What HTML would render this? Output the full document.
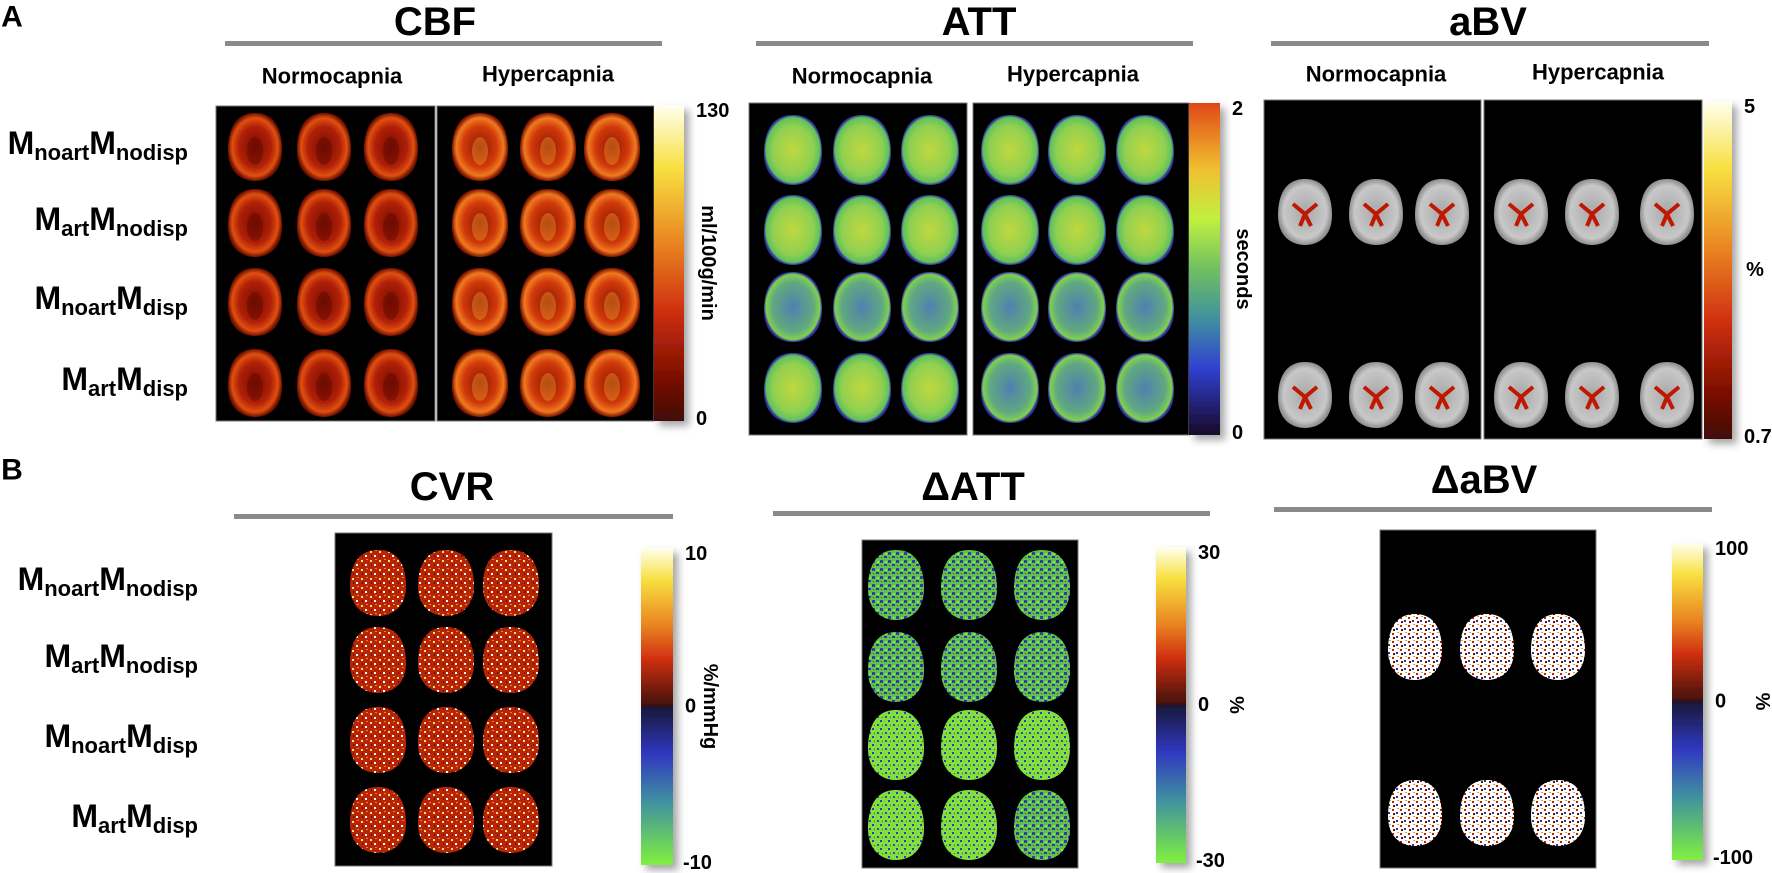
<!DOCTYPE html>
<html><head><meta charset="utf-8"><style>
html,body{margin:0;padding:0;background:#fff;}
svg{display:block;font-family:"Liberation Sans",Arial,sans-serif;font-weight:bold;}
</style></head><body>
<svg id="fig" width="1772" height="873" viewBox="0 0 1772 873" xmlns="http://www.w3.org/2000/svg">
<defs>
 <radialGradient id="gCBF" cx="50%" cy="50%" r="50%">
  <stop offset="0" stop-color="#7a0c00"/><stop offset="0.6" stop-color="#b02008"/><stop offset="0.85" stop-color="#e05010"/><stop offset="1" stop-color="#701000"/>
 </radialGradient>
 <radialGradient id="gCBFh" cx="50%" cy="50%" r="50%">
  <stop offset="0" stop-color="#901500"/><stop offset="0.6" stop-color="#d03a0a"/><stop offset="0.85" stop-color="#f07a20"/><stop offset="1" stop-color="#801400"/>
 </radialGradient>
 <radialGradient id="gATT" cx="50%" cy="50%" r="50%">
  <stop offset="0" stop-color="#c0d840"/><stop offset="0.7" stop-color="#90d050"/><stop offset="0.93" stop-color="#60c060"/><stop offset="1" stop-color="#3030a0"/>
 </radialGradient>
 <radialGradient id="gATTb" cx="50%" cy="50%" r="50%">
  <stop offset="0" stop-color="#5080b0"/><stop offset="0.7" stop-color="#60a880"/><stop offset="0.93" stop-color="#80d050"/><stop offset="1" stop-color="#3030a0"/>
 </radialGradient>
 <radialGradient id="gGray" cx="50%" cy="50%" r="50%">
  <stop offset="0" stop-color="#a8a8a8"/><stop offset="0.8" stop-color="#c8c8c8"/><stop offset="1" stop-color="#909090"/>
 </radialGradient>
 <pattern id="pCVR" width="9" height="9" patternUnits="userSpaceOnUse">
  <rect width="9" height="9" fill="#b82408"/><rect x="1" y="2" width="2" height="2" fill="#ffe860"/><rect x="5" y="6" width="2" height="2" fill="#ffffff"/><rect x="6" y="1" width="2" height="1" fill="#f08020"/><rect x="2" y="6" width="1" height="2" fill="#700800"/>
 </pattern>
 <pattern id="pDATT" width="8" height="8" patternUnits="userSpaceOnUse">
  <rect width="8" height="8" fill="#60c050"/><rect x="0" y="0" width="3" height="3" fill="#3040a0"/><rect x="4" y="4" width="3" height="2" fill="#2838a0"/><rect x="5" y="1" width="2" height="2" fill="#80f040"/><rect x="1" y="5" width="1" height="1" fill="#c02000"/>
 </pattern>
 <pattern id="pDATTg" width="8" height="8" patternUnits="userSpaceOnUse">
  <rect width="8" height="8" fill="#80e040"/><rect x="0" y="0" width="2" height="2" fill="#3040a0"/><rect x="5" y="4" width="2" height="2" fill="#3848b0"/><rect x="2" y="5" width="1" height="1" fill="#c02000"/>
 </pattern>
 <pattern id="pDABV" width="8" height="8" patternUnits="userSpaceOnUse">
  <rect width="8" height="8" fill="#ffffff"/><rect x="0" y="1" width="2" height="2" fill="#c02000"/><rect x="4" y="4" width="2" height="2" fill="#2838a0"/><rect x="5" y="0" width="2" height="1" fill="#f0a020"/><rect x="1" y="5" width="2" height="2" fill="#701000"/>
 </pattern>
 <linearGradient id="cbHot" x1="0" y1="0" x2="0" y2="1">
  <stop offset="0" stop-color="#fffff0"/><stop offset="0.2" stop-color="#f8e040"/><stop offset="0.45" stop-color="#e88020"/><stop offset="0.65" stop-color="#d03010"/><stop offset="0.85" stop-color="#801000"/><stop offset="1" stop-color="#401008"/>
 </linearGradient>
 <linearGradient id="cbJet" x1="0" y1="0" x2="0" y2="1">
  <stop offset="0" stop-color="#e04818"/><stop offset="0.2" stop-color="#f0c030"/><stop offset="0.35" stop-color="#c0f040"/><stop offset="0.5" stop-color="#70c060"/><stop offset="0.65" stop-color="#4090a0"/><stop offset="0.8" stop-color="#3040d0"/><stop offset="1" stop-color="#180828"/>
 </linearGradient>
 <linearGradient id="cbDiv" x1="0" y1="0" x2="0" y2="1">
  <stop offset="0" stop-color="#fffff0"/><stop offset="0.1" stop-color="#f8e040"/><stop offset="0.25" stop-color="#e88020"/><stop offset="0.35" stop-color="#d03010"/><stop offset="0.5" stop-color="#401008"/><stop offset="0.5" stop-color="#181838"/><stop offset="0.65" stop-color="#3038c0"/><stop offset="0.8" stop-color="#4090a0"/><stop offset="1" stop-color="#80f040"/>
 </linearGradient>
 <filter id="shadow" x="-30%" y="-10%" width="180%" height="130%"><feDropShadow dx="5" dy="5" stdDeviation="4" flood-color="#000" flood-opacity="0.35"/></filter>
</defs>
<g id="texts"></g>
<g id="panels"></g>
</svg>
<script>
// ---- data ----
const panelTitles = ["CBF","ATT","aBV","CVR","ΔATT","ΔaBV"];
const conditionLabels = ["Normocapnia","Hypercapnia"];
const cbfTicks = ["130","0"];
const attTicks = ["2","0"];
const abvTicks = ["5","0.7"];
const cvrTicks = ["10","0","-10"];
const dattTicks = ["30","0","-30"];
const dabvTicks = ["100","0","-100"];
const units = ["ml/100g/min","seconds","%","%/mmHg","%","%"];
const modelLabels = [["noart","nodisp"],["art","nodisp"],["noart","disp"],["art","disp"]];

const NS="http://www.w3.org/2000/svg";
const T=document.getElementById('texts');
const P=document.getElementById('panels');
function mk(tag,attrs,parent){const e=document.createElementNS(NS,tag);for(const k in attrs)e.setAttribute(k,attrs[k]);(parent||P).appendChild(e);return e;}
function txt(x,y,s,size,name,anchor,rot){const e=mk('text',{x:x,y:y,'font-size':size,'text-anchor':anchor||'middle','dominant-baseline':'central',fill:'#000'},T);
 if(rot)e.setAttribute('transform','rotate('+rot+' '+x+' '+y+')');
 e.textContent=s;
 
 
 return e;}

txt(12,17,"A",30,"panel-a-label");
txt(12,470,"B",30,"panel-b-label");

const titleCfg=[[435,22,225,662,43],[979,22,756,1193,43],[1488,22,1271,1709,43],[452,487,234,673,516],[973,487,773,1210,513],[1484,480,1274,1712,509]];
titleCfg.forEach((c,i)=>{
 txt(c[0],c[1],panelTitles[i],40,"title-"+panelTitles[i].toLowerCase().replace('δ','delta-'));
 const l=mk('rect',{x:c[2],y:c[4]-2,width:c[3]-c[2],height:5,fill:'#8a8a8a'});
 
 
});
[[332,548,76],[862,1073,76],[1376,1598,74]].forEach((c,i)=>{
 txt(c[0],c[2],conditionLabels[0],22,"normocapnia-label");
 txt(c[1],c[2]-2,conditionLabels[1],22,"hypercapnia-label");
});
function modelLabel(rx,y,m,name){
 const e=mk('text',{x:rx,y:y,'font-size':32,'text-anchor':'end','dominant-baseline':'central',fill:'#000'},T);
 e.innerHTML='M<tspan font-size="22" dy="9">'+m[0]+'</tspan><tspan dy="-9">M</tspan><tspan font-size="22" dy="9">'+m[1]+'</tspan>';
 
 
}
[147,223,302,383].forEach((y,i)=>modelLabel(188,y-4,modelLabels[i],"row-label-a-"+(i+1)));
[583,660,740,820].forEach((y,i)=>modelLabel(198,y-4,modelLabels[i],"row-label-b-"+(i+1)));

function box(x,y,w,h,name){const r=mk('rect',{x:x,y:y,width:w,height:h,fill:'#000',stroke:'#777','stroke-width':1});
 
 }
function brain(cx,cy,rx,ry,fill,name){const g=mk('g',{});
 
 
 const d=`M${cx} ${cy-ry} C${cx+rx*0.85} ${cy-ry} ${cx+rx} ${cy-ry*0.35} ${cx+rx} ${cy+ry*0.1} C${cx+rx} ${cy+ry*0.7} ${cx+rx*0.55} ${cy+ry} ${cx} ${cy+ry} C${cx-rx*0.55} ${cy+ry} ${cx-rx} ${cy+ry*0.7} ${cx-rx} ${cy+ry*0.1} C${cx-rx} ${cy-ry*0.35} ${cx-rx*0.85} ${cy-ry} ${cx} ${cy-ry}Z`;
 mk('path',{d:d,fill:fill},g);return g;}

// CBF
box(216,106,219,315,"cbf-normocapnia-image");box(437,106,217,315,"cbf-hypercapnia-image");
[147,223,302,383].forEach(y=>{[255,324,391].forEach(x=>{const g=brain(x,y,27,34,'url(#gCBF)','cbf-brain');mk('ellipse',{cx:x,cy:y+4,rx:8,ry:14,fill:'#600a00',opacity:0.5},g);});
 [480,548,612].forEach(x=>{const g=brain(x,y,28,34,'url(#gCBFh)','cbf-brain');mk('ellipse',{cx:x,cy:y+4,rx:8,ry:14,fill:'#f0a030',opacity:0.4},g);});});
// ATT
box(749,103,218,332,"att-normocapnia-image");box(973,103,216,332,"att-hypercapnia-image");
[150,230,307,388].forEach((y,r)=>{[793,862,930].forEach(x=>brain(x,y,29,35,r==2?'url(#gATTb)':'url(#gATT)','att-brain'));
 [1010,1077,1145].forEach(x=>brain(x,y,29,35,(r>=2)?'url(#gATTb)':'url(#gATT)','att-brain'));});
// aBV
box(1264,100,217,339,"abv-normocapnia-image");box(1484,100,218,339,"abv-hypercapnia-image");
[212,395].forEach(y=>{[1305,1376,1442,1521,1592,1667].forEach(x=>{const g=brain(x,y,27,33,'url(#gGray)','abv-brain');
 mk('path',{d:`M${x-12} ${y-8} L${x} ${y+2} L${x+12} ${y-8} M${x} ${y+2} L${x-5} ${y+14} M${x} ${y+2} L${x+6} ${y+14}`,stroke:'#c01800','stroke-width':4,fill:'none'},g);});});
// CVR
box(335,533,217,333,"cvr-image");
[583,660,740,820].forEach(y=>[378,446,511].forEach(x=>brain(x,y,28,33,'url(#pCVR)','cvr-brain')));
// dATT
box(862,540,216,328,"delta-att-image");
[585,667,745,825].forEach((y,r)=>[896,969,1042].forEach(x=>brain(x,y,28,35,r==2||r==3&&x<1000?'url(#pDATTg)':'url(#pDATT)','delta-att-brain')));
// dABV
box(1380,530,216,338,"delta-abv-image");
[647,813].forEach(y=>[1415,1487,1558].forEach(x=>brain(x,y,27,33,'url(#pDABV)','delta-abv-brain')));

function cbar(x,y,w,h,grad,ticks,unit,unitX,unitRot,name){
 const r=mk('rect',{x:x,y:y,width:w,height:h,fill:'url(#'+grad+')',filter:'url(#shadow)'});
 
 
 const tx=x+w+12;
 txt(tx,y+6,ticks[0],20,name+'-tick-max','start');
 if(ticks.length===3){txt(tx,y+h/2,ticks[1],20,name+'-tick-zero','start');txt(tx-2,y+h-2,ticks[2],20,name+'-tick-min','start');}
 else txt(tx,y+h-2,ticks[1],20,name+'-tick-min','start');
 txt(unitX,y+h/2,unit,20,name+'-unit','middle',unitRot);
}
cbar(654,105,30,316,'cbHot',cbfTicks,units[0],708,90,'cbf-colorbar');
cbar(1189,103,31,332,'cbJet',attTicks,units[1],1243,90,'att-colorbar');
cbar(1704,101,28,338,'cbHot',abvTicks,units[2],1755,0,'abv-colorbar');
cbar(641,548,32,317,'cbDiv',cvrTicks,units[3],710,90,'cvr-colorbar');
cbar(1156,547,30,316,'cbDiv',dattTicks,units[4],1236,90,'delta-att-colorbar');
cbar(1672,543,31,317,'cbDiv',dabvTicks,units[5],1762,90,'delta-abv-colorbar');
</script>
</body></html>
